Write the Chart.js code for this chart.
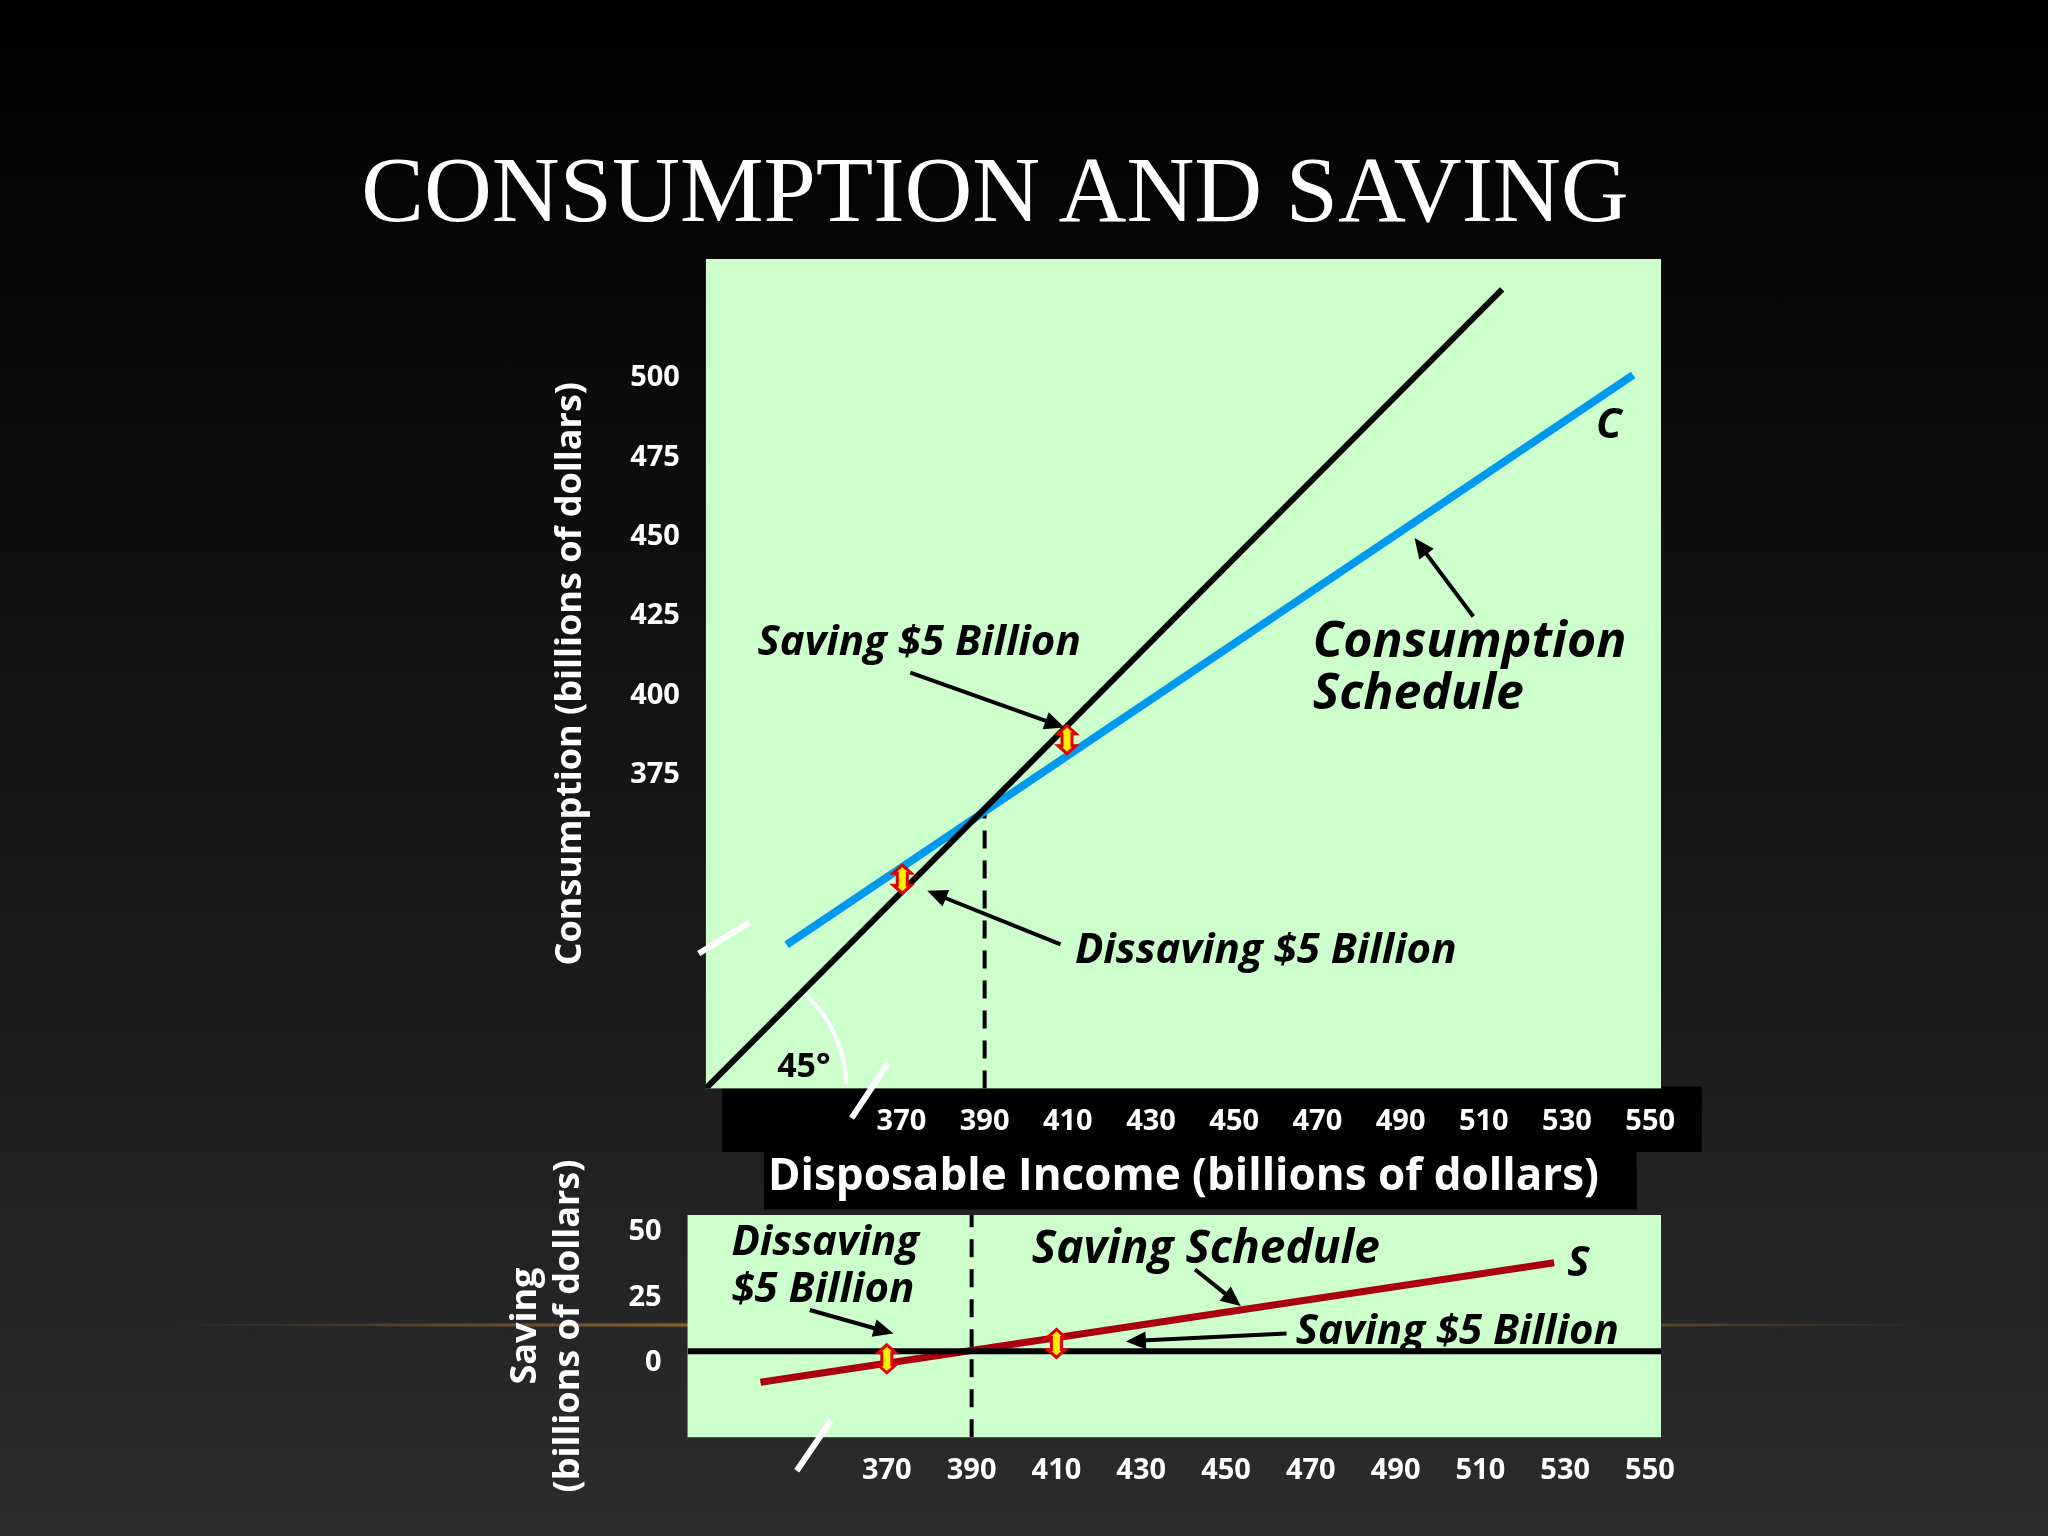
<!DOCTYPE html>
<html><head><meta charset="utf-8">
<script src="https://cdn.jsdelivr.net/npm/chart.js@4"></script>
<style>
html,body{margin:0;padding:0;width:2048px;height:1536px;overflow:hidden;background:linear-gradient(#000 0%,#111 40%,#2c2c2c 100%);}
#glow{position:absolute;left:150px;top:1322px;width:1800px;height:6px;background:radial-gradient(ellipse at center,rgba(255,170,60,0.8),rgba(255,170,60,0) 70%);}
#title{position:absolute;left:0;width:1990px;text-align:center;top:135px;color:#fff;font:94px "Liberation Serif",serif;}
canvas{position:absolute;left:0;top:0;}
.w{position:absolute;left:0;top:0;width:2048px;height:1536px;}
</style></head><body>
<div id="glow"></div>
<div id="title">CONSUMPTION AND SAVING</div>
<div class="w"><canvas id="c1"></canvas></div>
<div class="w"><canvas id="c2"></canvas></div>
<script>
const S = 2048/1568;
// Data
const xTicks = [370,390,410,430,450,470,490,510,530,550];
const topYTicks = [375,400,425,450,475,500];
const botYTicks = [0,25,50];
const line45X = [323,514.4], line45Y = [276,528];
const consX = [342.4,545.9], consY = [321.3,501];
const dashTopX = [390,390], dashTopY = [276,362.6];
const markTopX = [409.8,370.2], markTopY = [386,342];
const zeroX = [323,553], zeroY = [4.4,4.4];
const saveX = [340.2,527.4], saveY = [-7.4,38.2];
const dashBotX = [390,390], dashBotY = [-28.4,56.4];
const markBotX = [370,410], markBotY = [1.5,7.4];

const pts = (xs,ys)=>xs.map((x,i)=>({x,y:ys[i]}));
const tickFont = {family:'"Open Sans",sans-serif',weight:'bold',size:29};
function fixTicks(list){return s=>{s.ticks=list.map(v=>({value:v}));};}

function arrow(ctx,x1,y1,x2,y2){
  x1*=S;y1*=S;x2*=S;y2*=S;
  ctx.save();ctx.strokeStyle='#000';ctx.fillStyle='#000';ctx.lineWidth=4;
  const a=Math.atan2(y2-y1,x2-x1),h=20;
  ctx.beginPath();ctx.moveTo(x1,y1);ctx.lineTo(x2-h*0.8*Math.cos(a),y2-h*0.8*Math.sin(a));ctx.stroke();
  ctx.beginPath();ctx.moveTo(x2,y2);
  ctx.lineTo(x2-h*Math.cos(a)+h*0.45*Math.sin(a),y2-h*Math.sin(a)-h*0.45*Math.cos(a));
  ctx.lineTo(x2-h*Math.cos(a)-h*0.45*Math.sin(a),y2-h*Math.sin(a)+h*0.45*Math.cos(a));
  ctx.closePath();ctx.fill();ctx.restore();
}
function txt(ctx,t,x,y,size,col,style){
  ctx.save();ctx.fillStyle=col||'#000';ctx.font=(style||'italic bold')+' '+size+'px "Open Sans",sans-serif';
  ctx.textBaseline='middle';ctx.textAlign='left';ctx.fillText(t,x*S,y*S);ctx.restore();
}
function slash(ctx,x1,y1,x2,y2){
  ctx.save();ctx.strokeStyle='#fff';ctx.lineWidth=6;ctx.beginPath();ctx.moveTo(x1*S,y1*S);ctx.lineTo(x2*S,y2*S);ctx.stroke();ctx.restore();
}
function markers(chart,xs,ys){
  const ctx=chart.ctx,sx=chart.scales.x,sy=chart.scales.y;
  ctx.save();
  xs.forEach((v,i)=>{
    const px=sx.getPixelForValue(v),py=sy.getPixelForValue(ys[i]);
    ctx.fillStyle='#ffee00';ctx.strokeStyle='#e00000';ctx.lineWidth=3;
    ctx.beginPath();
    ctx.moveTo(px,py-14);ctx.lineTo(px+9,py-6);ctx.lineTo(px+5,py-6);ctx.lineTo(px+5,py+6);ctx.lineTo(px+9,py+6);
    ctx.lineTo(px,py+14);ctx.lineTo(px-9,py+6);ctx.lineTo(px-5,py+6);ctx.lineTo(px-5,py-6);ctx.lineTo(px-9,py-6);ctx.closePath();
    ctx.fill();ctx.stroke();
  });
  ctx.restore();
}
const bgPlugin = {id:'bg',beforeDraw(chart,a,o){
  const ctx=chart.ctx,ca=chart.chartArea;ctx.save();
  if(o.boxes){ctx.fillStyle='#000';o.boxes.forEach(b=>ctx.fillRect(b[0]*S,b[1]*S,(b[2]-b[0])*S,(b[3]-b[1])*S));}
  ctx.fillStyle='#ccffcc';ctx.fillRect(ca.left,ca.top,ca.right-ca.left,ca.bottom-ca.top);
  ctx.restore();
}};

function common(xmin,xmax,ymin,ymax,yticks,ytitle,pad,xtitle){
  return {
    responsive:false,animation:false,
    layout:{padding:pad},
    plugins:{legend:{display:false},tooltip:{enabled:false}},
    scales:{
      x:{type:'linear',min:xmin,max:xmax,grid:{display:false},border:{display:false},
        afterBuildTicks:fixTicks(xTicks),
        ticks:{color:'#fff',font:tickFont,autoSkip:false,maxRotation:0,padding:8},
        title:{display:!!xtitle,text:xtitle||'',color:'#fff',font:{family:'"Open Sans",sans-serif',weight:'bold',size:44},padding:{top:4}}},
      y:{type:'linear',min:ymin,max:ymax,grid:{display:false},border:{display:false},
        afterBuildTicks:fixTicks(yticks),
        ticks:{color:'#fff',font:tickFont,padding:18},
        title:{display:true,text:ytitle,color:'#fff',font:{family:'"Open Sans",sans-serif',weight:'bold',size:36},padding:{bottom:20}}}
    }
  };
}

// Top chart
const c1=document.getElementById('c1');c1.width=2048;c1.height=1536;
const o1=common(323,552.6,276,537.6,topYTicks,'Consumption (billions of dollars)',{left:545,top:259,right:387,bottom:328},'Disposable Income (billions of dollars)');
o1.plugins.bg={boxes:[[553,832,1303,882],[585,882,1253,926]]};
new Chart(c1,{type:'line',
  data:{datasets:[
    {data:pts(line45X,line45Y),borderColor:'#000',borderWidth:6,pointRadius:0},
    {data:pts(consX,consY),borderColor:'#0099ee',borderWidth:8,pointRadius:0},
    {data:pts(dashTopX,dashTopY),borderColor:'#000',borderWidth:4,borderDash:[18,12],pointRadius:0}
  ]},
  options:o1,
  plugins:[bgPlugin,{id:'ann1',afterDatasetsDraw(chart){
    const ctx=chart.ctx;
    markers(chart,markTopX,markTopY);
    txt(ctx,'Saving $5 Billion',580,492,42);
    txt(ctx,'Consumption',1005,492,50);
    txt(ctx,'Schedule',1005,532,50);
    txt(ctx,'C',1222,326,42);
    txt(ctx,'Dissaving $5 Billion',823,728,42);
    txt(ctx,'45°',595,817,34,'#000','bold');
    arrow(ctx,697,515,815,557);
    arrow(ctx,1128,472,1083,412);
    arrow(ctx,812,723,710,682);
    ctx.save();ctx.strokeStyle='#fff';ctx.lineWidth=4;ctx.beginPath();
    ctx.arc(553*S,832*S,95*S,-Math.PI/4-0.05,-0.02);ctx.stroke();ctx.restore();
    slash(ctx,535,730,574,706);
    slash(ctx,652,856,680,814);
  }}]
});

// Bottom chart
const c2=document.getElementById('c2');c2.width=2048;c2.height=1536;
const o2=common(323,552.6,-28.4,56.4,botYTicks,['Saving','(billions of dollars)'],{left:500,top:1215,right:387,bottom:40},null);
new Chart(c2,{type:'line',
  data:{datasets:[
    {data:pts(zeroX,zeroY),borderColor:'#000',borderWidth:6,pointRadius:0},
    {data:pts(saveX,saveY),borderColor:'#aa0010',borderWidth:7,pointRadius:0},
    {data:pts(dashBotX,dashBotY),borderColor:'#000',borderWidth:4,borderDash:[18,12],pointRadius:0}
  ]},
  options:o2,
  plugins:[bgPlugin,{id:'ann2',afterDatasetsDraw(chart){
    const ctx=chart.ctx;
    markers(chart,markBotX,markBotY);
    txt(ctx,'Dissaving',560,952,42);
    txt(ctx,'$5 Billion',560,988,42);
    txt(ctx,'Saving Schedule',790,957,46);
    txt(ctx,'S',1200,968,42);
    txt(ctx,'Saving $5 Billion',992,1020,42);
    arrow(ctx,620,1003,684,1021);
    arrow(ctx,915,972,950,1000);
    arrow(ctx,985,1021,862,1027);
    slash(ctx,610,1126,636,1088);
  }}]
});
</script>
</body></html>
